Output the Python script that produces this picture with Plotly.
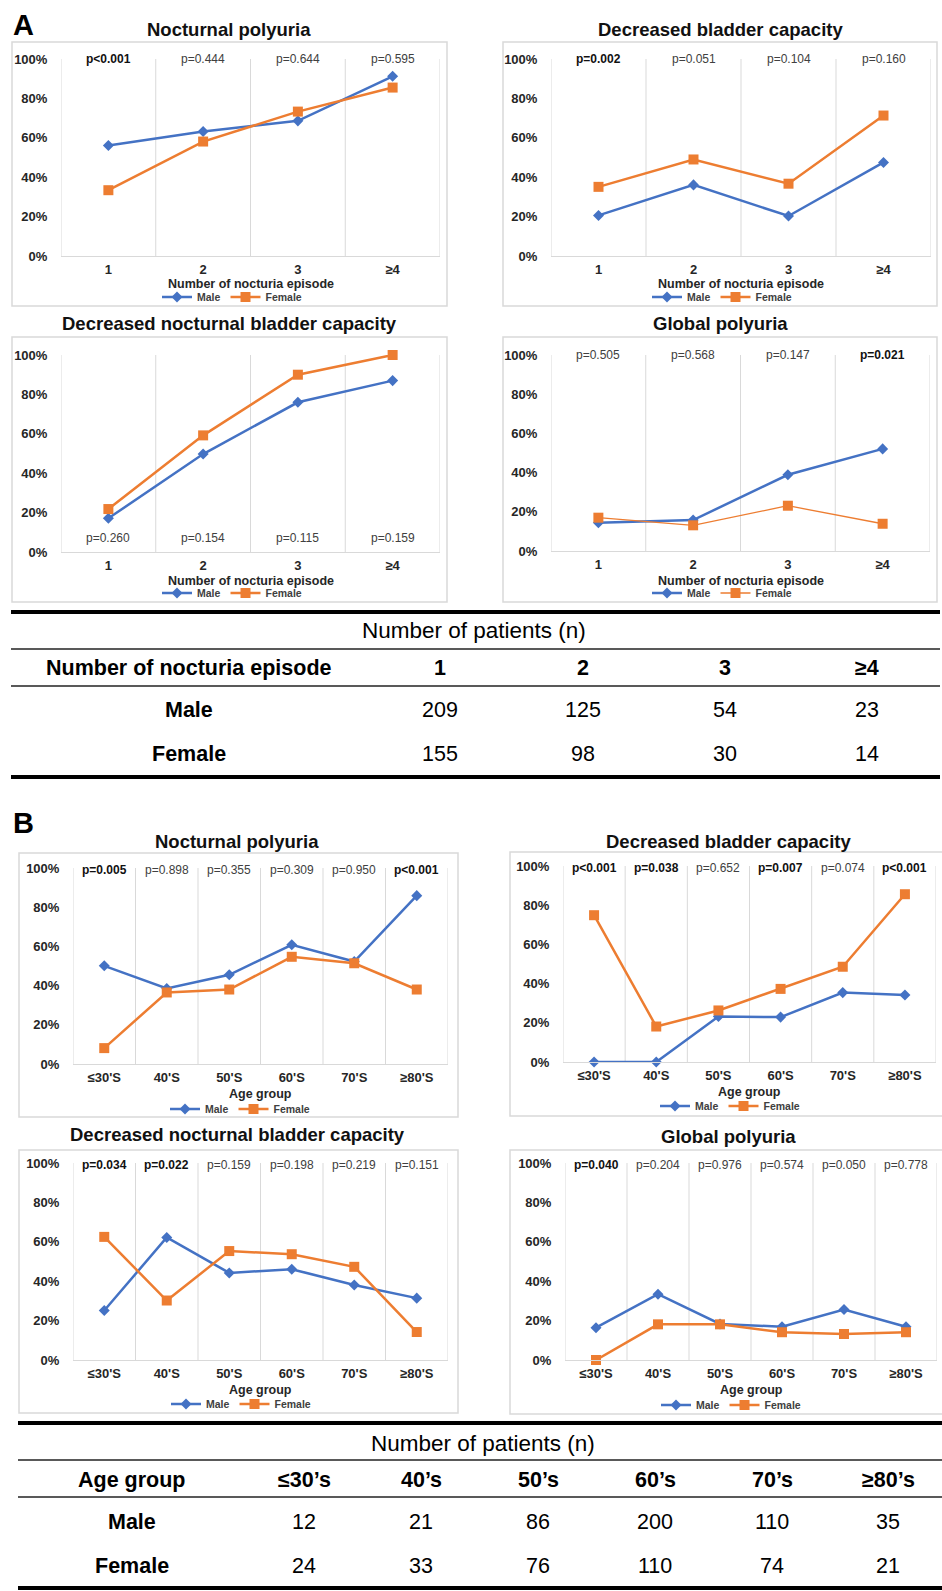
import plotly.graph_objects as go

W, H = 942, 1591
FONT = "Liberation Sans, Arial, sans-serif"
MALE_C = "#4472C4"
FEMALE_C = "#ED7D31"
GRID_C = "#D9D9D9"

# ---------------- data ----------------
episode_cats = ["1", "2", "3", "≥4"]
age_cats = ["≤30'S", "40'S", "50'S", "60'S", "70'S", "≥80'S"]

# Panel A - prevalence by number of nocturia episodes
a_np_male = [0.561, 0.632, 0.686, 0.912]
a_np_female = [0.334, 0.581, 0.733, 0.855]
a_np_p = ["p<0.001", "p=0.444", "p=0.644", "p=0.595"]

a_dbc_male = [0.206, 0.361, 0.203, 0.475]
a_dbc_female = [0.351, 0.490, 0.367, 0.713]
a_dbc_p = ["p=0.002", "p=0.051", "p=0.104", "p=0.160"]

a_dnbc_male = [0.171, 0.497, 0.760, 0.870]
a_dnbc_female = [0.218, 0.592, 0.900, 1.000]
a_dnbc_p = ["p=0.260", "p=0.154", "p=0.115", "p=0.159"]

a_gp_male = [0.144, 0.158, 0.389, 0.521]
a_gp_female = [0.170, 0.131, 0.231, 0.139]
a_gp_p = ["p=0.505", "p=0.568", "p=0.147", "p=0.021"]

# Panel B - prevalence by age group
b_np_male = [0.501, 0.385, 0.455, 0.608, 0.523, 0.859]
b_np_female = [0.081, 0.365, 0.380, 0.547, 0.514, 0.380]
b_np_p = ["p=0.005", "p=0.898", "p=0.355", "p=0.309", "p=0.950", "p<0.001"]

b_dbc_male = [0.0, 0.0, 0.232, 0.229, 0.354, 0.342]
b_dbc_female = [0.749, 0.181, 0.263, 0.373, 0.486, 0.856]
b_dbc_p = ["p<0.001", "p=0.038", "p=0.652", "p=0.007", "p=0.074", "p<0.001"]

b_dnbc_male = [0.251, 0.622, 0.442, 0.461, 0.381, 0.314]
b_dnbc_female = [0.625, 0.302, 0.553, 0.537, 0.473, 0.142]
b_dnbc_p = ["p=0.034", "p=0.022", "p=0.159", "p=0.198", "p=0.219", "p=0.151"]

b_gp_male = [0.164, 0.334, 0.183, 0.169, 0.256, 0.169]
b_gp_female = [0.0, 0.181, 0.181, 0.141, 0.132, 0.141]
b_gp_p = ["p=0.040", "p=0.204", "p=0.976", "p=0.574", "p=0.050", "p=0.778"]

# Number of patients
a_table_header = ["Number of nocturia episode", "1", "2", "3", "≥4"]
a_table_male = [209, 125, 54, 23]
a_table_female = [155, 98, 30, 14]

b_table_header = ["Age group", "≤30’s", "40’s", "50’s", "60’s", "70’s", "≥80’s"]
b_table_male = [12, 21, 86, 200, 110, 35]
b_table_female = [24, 33, 76, 110, 74, 21]


def fx(px):
    return px / W


def fy(py):
    return 1 - py / H


charts = [
    dict(title="Nocturnal polyuria", cats=episode_cats, male=a_np_male, female=a_np_female,
         pvals=a_np_p, p_level=1.0, xlabel="Number of nocturia episode",
         plot=(61, 440, 59, 256), box=(12, 447, 42, 306), title_xy=(229, 29),
         xlabel_y=284, legend_xy=(232, 297), fw=2.5),
    dict(title="Decreased bladder capacity", cats=episode_cats, male=a_dbc_male, female=a_dbc_female,
         pvals=a_dbc_p, p_level=1.0, xlabel="Number of nocturia episode",
         plot=(551, 931, 59, 256), box=(503, 937, 42, 306), title_xy=(720, 29),
         xlabel_y=284, legend_xy=(722, 297), fw=2.5),
    dict(title="Decreased nocturnal bladder capacity", cats=episode_cats, male=a_dnbc_male,
         female=a_dnbc_female, pvals=a_dnbc_p, p_level=0.07, xlabel="Number of nocturia episode",
         plot=(61, 440, 355, 552), box=(12, 447, 337, 602), title_xy=(229, 323),
         xlabel_y=581, legend_xy=(232, 593), fw=2.5),
    dict(title="Global polyuria", cats=episode_cats, male=a_gp_male, female=a_gp_female,
         pvals=a_gp_p, p_level=1.0, xlabel="Number of nocturia episode",
         plot=(551, 930, 355, 551), box=(503, 937, 337, 602), title_xy=(720, 324),
         xlabel_y=581, legend_xy=(722, 593), fw=1.3),
    dict(title="Nocturnal polyuria", cats=age_cats, male=b_np_male, female=b_np_female,
         pvals=b_np_p, p_level=0.99, xlabel="Age group",
         plot=(73, 448, 868, 1064), box=(19, 458, 853, 1117), title_xy=(237, 841),
         xlabel_y=1094, legend_xy=(240, 1109), fw=2.5),
    dict(title="Decreased bladder capacity", cats=age_cats, male=b_dbc_male, female=b_dbc_female,
         pvals=b_dbc_p, p_level=0.99, xlabel="Age group",
         plot=(563, 936, 866, 1062), box=(510, 946, 852, 1116), title_xy=(728, 841),
         xlabel_y=1092, legend_xy=(730, 1106), fw=2.5),
    dict(title="Decreased nocturnal bladder capacity", cats=age_cats, male=b_dnbc_male,
         female=b_dnbc_female, pvals=b_dnbc_p, p_level=0.99, xlabel="Age group",
         plot=(73, 448, 1163, 1360), box=(19, 458, 1150, 1413), title_xy=(237, 1134),
         xlabel_y=1390, legend_xy=(241, 1404), fw=2.5),
    dict(title="Global polyuria", cats=age_cats, male=b_gp_male, female=b_gp_female,
         pvals=b_gp_p, p_level=0.99, xlabel="Age group",
         plot=(565, 937, 1163, 1360), box=(510, 946, 1150, 1414), title_xy=(728, 1136),
         xlabel_y=1390, legend_xy=(731, 1405), fw=2.5),
]

fig = go.Figure()
layout = dict(
    width=W, height=H,
    margin=dict(l=0, r=0, t=0, b=0),
    paper_bgcolor="white", plot_bgcolor="white",
    font=dict(family=FONT, color="#262626"),
    annotations=[], shapes=[],
)
ann = layout["annotations"]
shp = layout["shapes"]

for i, c in enumerate(charts):
    sfx = "" if i == 0 else str(i + 1)
    xa, ya = "x" + sfx, "y" + sfx
    leg = "legend" + sfx
    n = len(c["cats"])
    xs = list(range(n))
    x0, x1, y0, y1 = c["plot"]

    fig.add_trace(go.Scatter(
        x=xs, y=c["male"], name="Male", mode="lines+markers", xaxis=xa, yaxis=ya,
        line=dict(color=MALE_C, width=2.5), marker=dict(symbol="diamond", size=8.5, color=MALE_C),
        cliponaxis=False, legend=leg))
    fig.add_trace(go.Scatter(
        x=xs, y=c["female"], name="Female", mode="lines+markers", xaxis=xa, yaxis=ya,
        line=dict(color=FEMALE_C, width=c["fw"]), marker=dict(symbol="square", size=10, color=FEMALE_C),
        cliponaxis=False, legend=leg))

    layout["xaxis" + sfx] = dict(
        domain=[fx(x0), fx(x1)], anchor=ya, range=[-0.5, n - 0.5],
        tickvals=xs, ticktext=c["cats"], showgrid=False, zeroline=False,
        showline=True, linecolor=GRID_C, linewidth=1,
        ticks="outside", ticklen=1, tickcolor="rgba(0,0,0,0)",
        tickfont=dict(size=13, weight="bold", color="#262626"),
        automargin=False, fixedrange=True)
    layout["yaxis" + sfx] = dict(
        domain=[fy(y1), fy(y0)], anchor=xa, range=[0, 1],
        tickvals=[0, 0.2, 0.4, 0.6, 0.8, 1.0], tickformat=".0%",
        showgrid=False, zeroline=False, showline=False,
        ticks="outside", ticklen=10, tickcolor="rgba(0,0,0,0)",
        tickfont=dict(size=13, weight="bold", color="#262626"),
        automargin=False, fixedrange=True)

    # vertical separators between categories
    for k in range(n + 1):
        shp.append(dict(type="line", xref=xa, yref=ya, x0=k - 0.5, x1=k - 0.5, y0=0, y1=1,
                        line=dict(color=GRID_C, width=1), layer="below"))

    # p-values per category
    for k, p in enumerate(c["pvals"]):
        pv = float(p[2:])
        sig = pv < 0.05
        ann.append(dict(
            x=k, y=c["p_level"], xref=xa, yref=ya, text=f"<b>{p}</b>" if sig else p,
            showarrow=False, xanchor="center", yanchor="middle",
            font=dict(size=12, family=FONT, color="#111111" if sig else "#404040")))

    # chart title
    tx, ty = c["title_xy"]
    ann.append(dict(x=fx(tx), y=fy(ty), xref="paper", yref="paper", text=f"<b>{c['title']}</b>",
                    showarrow=False, xanchor="center", yanchor="middle",
                    font=dict(size=18.5, family=FONT, color="#111111")))
    # x-axis title
    ann.append(dict(x=fx((x0 + x1) / 2), y=fy(c["xlabel_y"]), xref="paper", yref="paper",
                    text=f"<b>{c['xlabel']}</b>", showarrow=False, xanchor="center", yanchor="middle",
                    font=dict(size=12.5, family=FONT, color="#262626")))

    # chart frame
    bx0, bx1, by0, by1 = c["box"]
    shp.append(dict(type="rect", xref="paper", yref="paper", x0=fx(bx0), x1=fx(bx1),
                    y0=fy(by1), y1=fy(by0), line=dict(color=GRID_C, width=1.5), layer="below"))

    lx, ly = c["legend_xy"]
    layout[leg] = dict(
        x=fx(lx), y=fy(ly), xref="paper", yref="paper", xanchor="center", yanchor="middle",
        orientation="h", bgcolor="rgba(0,0,0,0)", itemwidth=30, tracegroupgap=0,
        font=dict(size=10.5, family=FONT, weight="bold", color="#404040"), itemclick=False)

# panel letters
for letter, (lx, ly) in {"A": (23, 25), "B": (23, 823)}.items():
    ann.append(dict(x=fx(lx), y=fy(ly), xref="paper", yref="paper", text=f"<b>{letter}</b>",
                    showarrow=False, xanchor="center", yanchor="middle",
                    font=dict(size=29, family=FONT, color="black")))


def add_table(header, male, female, col_x, line_x, line_y, text_y, title_cx):
    xl, xr = line_x
    for j, yy in enumerate(line_y):
        thick = j in (0, len(line_y) - 1)
        shp.append(dict(type="line", xref="paper", yref="paper", x0=fx(xl), x1=fx(xr),
                        y0=fy(yy), y1=fy(yy),
                        line=dict(color="black" if thick else "#595959", width=4 if thick else 2)))
    ty_title, ty_head, ty_m, ty_f = text_y
    ann.append(dict(x=fx(title_cx), y=fy(ty_title), xref="paper", yref="paper",
                    text="Number of patients (n)", showarrow=False, xanchor="center", yanchor="middle",
                    font=dict(size=22.5, family=FONT, color="black")))
    rows = [(ty_head, header, True),
            (ty_m, ["Male"] + [str(v) for v in male], False),
            (ty_f, ["Female"] + [str(v) for v in female], False)]
    for yy, cells, is_head in rows:
        for j, (cx, txt) in enumerate(zip(col_x, cells)):
            bold = is_head or j == 0
            ann.append(dict(x=fx(cx), y=fy(yy), xref="paper", yref="paper",
                            text=f"<b>{txt}</b>" if bold else txt, showarrow=False,
                            xanchor="center", yanchor="middle",
                            font=dict(size=21.5, family=FONT, color="black")))


add_table(a_table_header, a_table_male, a_table_female,
          col_x=[189, 440, 583, 725, 867], line_x=(11, 940),
          line_y=[612, 649, 686, 777], text_y=[630, 668, 710, 754], title_cx=474)
add_table(b_table_header, b_table_male, b_table_female,
          col_x=[132, 304, 421, 538, 655, 772, 888], line_x=(18, 942),
          line_y=[1423, 1460, 1497, 1588], text_y=[1443, 1480, 1522, 1566], title_cx=483)

fig.update_layout(**layout)
fig.write_html("out.html")
